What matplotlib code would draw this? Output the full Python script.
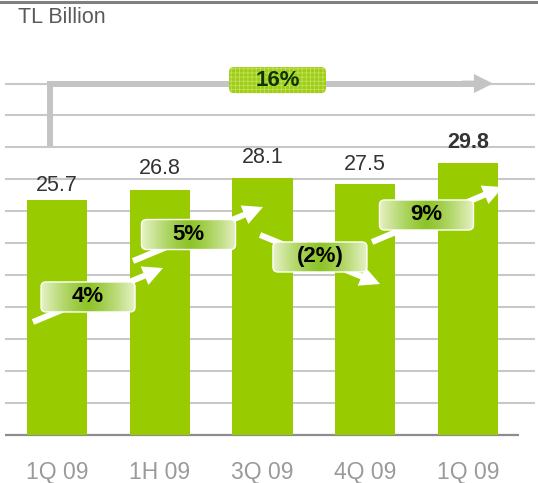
import matplotlib
matplotlib.use('Agg')
import matplotlib.pyplot as plt
from matplotlib.patches import FancyBboxPatch, FancyArrowPatch
from matplotlib.lines import Line2D
import matplotlib.transforms as mtransforms
import numpy as np

# ---------------- data ----------------
categories = ['1Q 09', '1H 09', '3Q 09', '4Q 09', '1Q 09']
values = [25.7, 26.8, 28.1, 27.5, 29.8]
value_labels = ['25.7', '26.8', '28.1', '27.5', '29.8']
value_bold = [False, False, False, False, True]
growth_labels = ['4%', '5%', '(2%)', '9%']
total_growth_label = '16%'
unit_label = 'TL Billion'

# ---------------- layout (pixels / data units) ----------------
label_gap_px = [9, 16, 15, 14, 15]
growth_box_centers = [(0.302, 15.12), (1.280, 21.96), (2.559, 19.50), (3.596, 24.10)]
growth_arrows = [((-0.234, 12.38), (1.032, 18.29)),
                 ((0.740, 19.06), (2.005, 24.97)),
                 ((1.976, 21.91), (3.144, 16.54)),
                 ((3.066, 21.14), (4.341, 27.16))]
total_arrow_x = -0.068
total_arrow_bottom = 31.65
total_arrow_y = 38.5
total_arrow_tip = 4.243
total_box_center = (2.146, 38.88)

plt.rcParams['font.family'] = ['Liberation Sans', 'DejaVu Sans']
plt.rcParams['hatch.linewidth'] = 0.6

W, H = 538, 483
fig = plt.figure(figsize=(W / 100, H / 100), dpi=100)
ax = fig.add_axes([5 / W, (H - 435) / H, 530 / W, 435 / H])
XL = (-0.506, 4.652)
YL = (0, 47.65)
ax.set_xlim(*XL)
ax.set_ylim(*YL)
ax.axis('off')

x = np.arange(len(values))

# gridlines
for g in np.arange(3.5, 38.6, 3.5):
    ax.axhline(g, color='#c8c8c8', lw=1.5, zorder=0)
ax.plot([XL[0], 4.496], [0, 0], color='#8c8c8c', lw=1.6, zorder=1,
        clip_on=False, solid_capstyle='butt')

# bars
ax.bar(x, values, width=0.584, color='#99cc00', zorder=2)

# value labels
for i, (v, lab, b, gap) in enumerate(zip(values, value_labels, value_bold, label_gap_px)):
    ax.annotate(lab, (i, v), xytext=(0, gap * 0.72), textcoords='offset points',
                ha='center', va='baseline', fontsize=15.5,
                fontweight='bold' if b else 'normal', color='#333333', zorder=6)

# category labels
for i, c in enumerate(categories):
    ax.annotate(c, (i, 0), xytext=(0, -44 * 0.72), textcoords='offset points',
                ha='center', va='baseline', fontsize=16.5, color='#9a9a9a',
                annotation_clip=False)

# unit label
fig.text(18 / W, 1 - 23 / H, unit_label, ha='left', va='baseline',
         fontsize=15.5, color='#595959')

# top rule
fig.add_artist(Line2D([0, 1], [1 - 1.5 / H] * 2, transform=fig.transFigure,
                      color='#808080', lw=2.2))

# total growth arrow (gray)
gray = '#c4c4c4'
ax.plot([total_arrow_x, total_arrow_x, total_arrow_tip - 0.15],
        [total_arrow_bottom, total_arrow_y, total_arrow_y],
        color=gray, lw=4.3, solid_joinstyle='miter', solid_capstyle='butt', zorder=1.5)
ax.add_patch(FancyArrowPatch((total_arrow_tip - 0.3, total_arrow_y),
                             (total_arrow_tip, total_arrow_y),
                             arrowstyle='simple,head_length=1.0,head_width=1.0,tail_width=0.31',
                             mutation_scale=13.7, fc=gray, ec='none',
                             shrinkA=0, shrinkB=0, zorder=1.6))


def px_box(cx, cy, wpx, hpx, r_px=5, **kw):
    tr = fig.dpi_scale_trans + mtransforms.ScaledTranslation(cx, cy, ax.transData)
    r = r_px / 100
    w = wpx / 100
    h = hpx / 100
    p = FancyBboxPatch((-w / 2 + r, -h / 2 + r), w - 2 * r, h - 2 * r,
                       boxstyle=f'round,pad={r}', transform=tr, **kw)
    ax.add_patch(p)
    return p


def data_extent(cx, cy, wpx, hpx):
    dx, dy = ax.transData.transform((cx, cy))
    inv = ax.transData.inverted()
    (x0, y0) = inv.transform((dx - wpx / 2, dy - hpx / 2))
    (x1, y1) = inv.transform((dx + wpx / 2, dy + hpx / 2))
    return [x0, x1, y0, y1]


# total growth box (textured green)
px_box(total_box_center[0], total_box_center[1], 97, 26, r_px=5,
       fc='#9fcc14', ec='none', zorder=2.5)
px_box(total_box_center[0], total_box_center[1], 97, 26, r_px=5,
       fc='none', ec='#bfe25a', lw=0, hatch='++++', zorder=2.55)
ax.text(total_box_center[0], total_box_center[1], total_growth_label,
        ha='center', va='center', fontsize=16, fontweight='bold',
        color='#0d3300', zorder=2.6)

# growth arrows
for (a, b) in growth_arrows:
    ax.add_patch(FancyArrowPatch(a, b,
                                 arrowstyle='simple,head_length=1.0,head_width=1.0,tail_width=0.3',
                                 mutation_scale=14.4, fc='white', ec='none',
                                 shrinkA=0, shrinkB=0, zorder=3))

# gradient boxes
N = 200
t = np.abs(np.linspace(-1, 1, N)) ** 1.3
center_c = np.array([0x8e, 0xc4, 0x2a]) / 255
edge_c = np.array([0xe6, 0xf2, 0xc6]) / 255
grad = (center_c[None, :] * (1 - t[:, None]) + edge_c[None, :] * t[:, None])
grad = np.repeat(grad[None, :, :], 2, axis=0)

for (cx, cy), lab in zip(growth_box_centers, growth_labels):
    p = px_box(cx, cy, 94, 30, r_px=5, fc='none', ec='white', lw=1.0, zorder=4.1)
    ext = data_extent(cx, cy, 94, 30)
    im = ax.imshow(grad, extent=ext, aspect='auto', zorder=4, interpolation='bilinear')
    im.set_clip_path(p)
    ax.text(cx, cy, lab, ha='center', va='center', fontsize=16,
            fontweight='bold', color='#000000', zorder=5)

ax.set_xlim(*XL)
ax.set_ylim(*YL)

fig.savefig('out.png', dpi=100)
